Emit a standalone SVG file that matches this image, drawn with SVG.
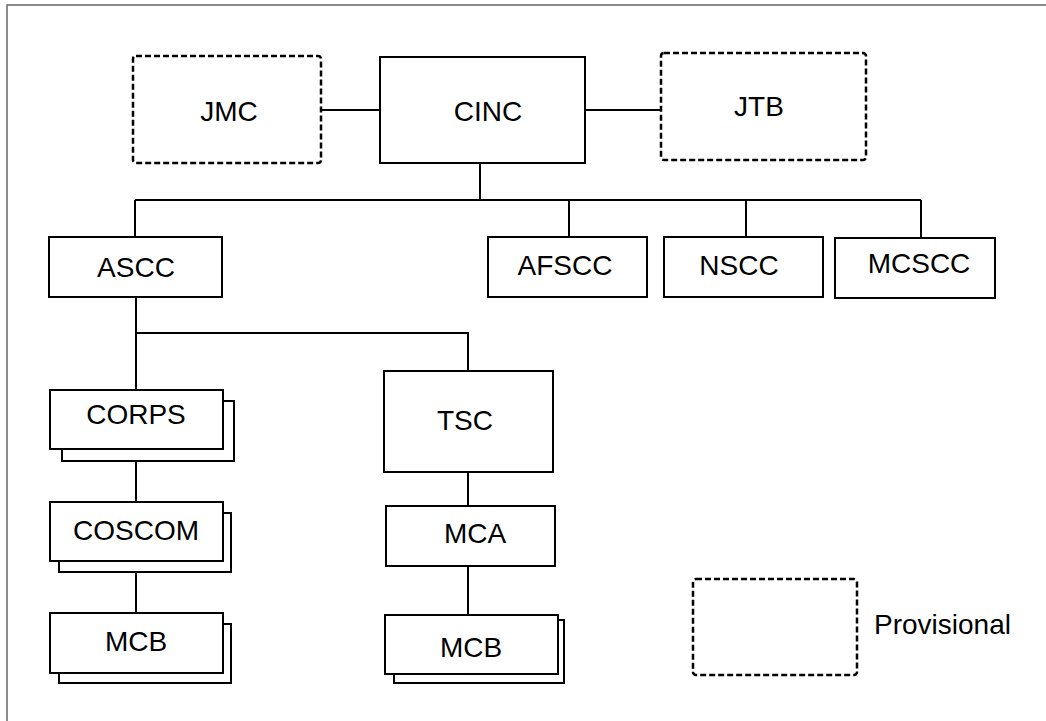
<svg xmlns="http://www.w3.org/2000/svg" width="1046" height="721" viewBox="0 0 1046 721">
<style>
.box{fill:#fff;stroke:#000;stroke-width:2}
.dash{fill:#fff;stroke:#000;stroke-width:2.5;stroke-dasharray:6 3}
.lbl{font-family:"Liberation Sans",Arial,sans-serif;font-size:28px;fill:#000;text-anchor:middle}
.ln{stroke:#000;stroke-width:2;fill:none}
</style>
<rect x="0" y="0" width="1046" height="721" fill="#fff"/>
<path d="M7,721 V5 H1046" fill="none" stroke="#666" stroke-width="1.5"/>
<g id="connectors">
<path class="ln" d="M321,110 H380"/>
<path class="ln" d="M585,110 H661"/>
<path class="ln" d="M480,163 V200"/>
<path class="ln" d="M135,200 H921"/>
<path class="ln" d="M135,200 V237"/>
<path class="ln" d="M569,200 V237"/>
<path class="ln" d="M746,200 V237"/>
<path class="ln" d="M921,200 V238"/>
<path class="ln" d="M136,297 V390"/>
<path class="ln" d="M136,333 H468 V371"/>
<path class="ln" d="M136,449 V502"/>
<path class="ln" d="M136,561 V613"/>
<path class="ln" d="M468,472 V506"/>
<path class="ln" d="M468,566 V618" stroke-width="3"/>
</g>
<g id="JMC">
<rect class="dash" x="133" y="56" width="188" height="107" rx="3"/>
<text class="lbl" x="229" y="121">JMC</text>
</g>
<g id="CINC">
<rect class="box" x="380" y="57" width="205" height="106"/>
<text class="lbl" x="488" y="121">CINC</text>
</g>
<g id="JTB">
<rect class="dash" x="661" y="53" width="205" height="107" rx="3"/>
<text class="lbl" x="759" y="116">JTB</text>
</g>
<g id="ASCC">
<rect class="box" x="49" y="237" width="173" height="60"/>
<text class="lbl" x="136" y="277">ASCC</text>
</g>
<g id="AFSCC">
<rect class="box" x="488" y="237" width="159" height="60"/>
<text class="lbl" x="565" y="275">AFSCC</text>
</g>
<g id="NSCC">
<rect class="box" x="664" y="237" width="159" height="60"/>
<text class="lbl" x="739" y="275">NSCC</text>
</g>
<g id="MCSCC">
<rect class="box" x="835" y="238" width="160" height="60"/>
<text class="lbl" x="919" y="273">MCSCC</text>
</g>
<g id="CORPS">
<rect class="box" x="62" y="401" width="172" height="60"/>
<rect class="box" x="50" y="390" width="173" height="59"/>
<text class="lbl" x="136" y="424">CORPS</text>
</g>
<g id="COSCOM">
<rect class="box" x="59" y="513" width="172" height="59"/>
<rect class="box" x="50" y="502" width="173" height="59"/>
<text class="lbl" x="136" y="540">COSCOM</text>
</g>
<g id="MCB1">
<rect class="box" x="59" y="624" width="172" height="59"/>
<rect class="box" x="50" y="613" width="173" height="60"/>
<text class="lbl" x="136" y="651">MCB</text>
</g>
<g id="TSC">
<rect class="box" x="384" y="371" width="169" height="101"/>
<text class="lbl" x="465" y="430">TSC</text>
</g>
<g id="MCA">
<rect class="box" x="386" y="506" width="169" height="60"/>
<text class="lbl" x="475" y="543">MCA</text>
</g>
<g id="MCB2">
<rect class="box" x="394" y="620" width="170" height="63"/>
<rect class="box" x="385" y="615" width="173" height="59"/>
<text class="lbl" x="471" y="657">MCB</text>
</g>
<g id="legend">
<rect class="dash" x="693" y="579" width="164" height="96" rx="3"/>
<text x="874" y="634" font-family="Liberation Sans, Arial, sans-serif" font-size="28" fill="#000">Provisional</text>
</g>
</svg>
